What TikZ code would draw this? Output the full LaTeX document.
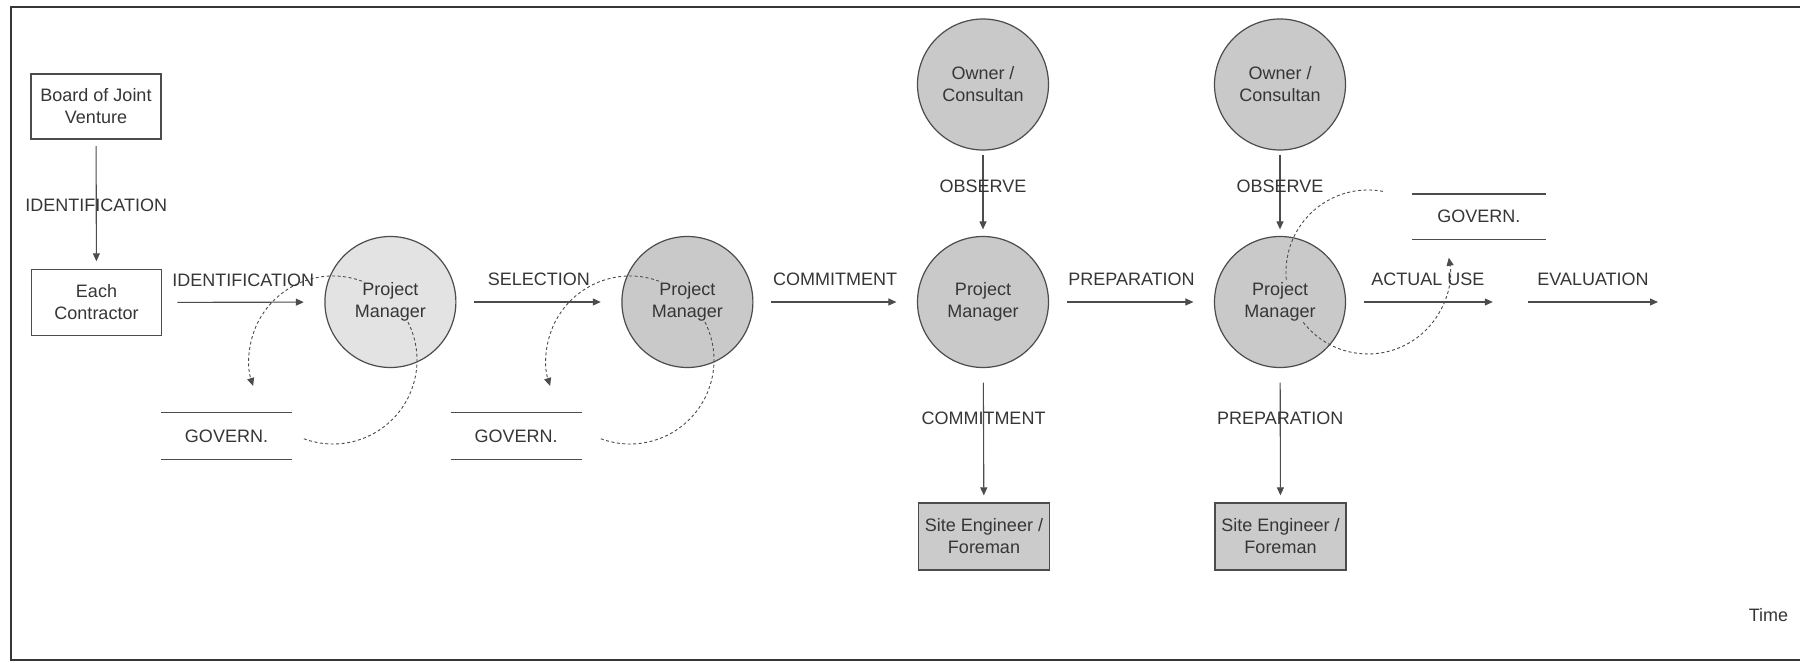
\documentclass[tikz,border=0pt]{standalone}
\usepackage{fontspec}
\setmainfont{Liberation Sans}
\usetikzlibrary{arrows.meta,calc}
\definecolor{ink}{HTML}{363636}
\definecolor{edge}{HTML}{4C4C4C}
\definecolor{pmlight}{HTML}{E3E3E3}
\definecolor{pmdark}{HTML}{C9C9C9}
\definecolor{boxgray}{HTML}{CBCBCB}

\begin{document}
\begin{tikzpicture}[x=1pt,y=1pt,
  font=\fontsize{18}{22}\selectfont, text=ink,
  every node/.style={align=center},
  tip/.style={-{Triangle[length=8pt,width=7pt]}},
  whitebox/.style={draw=edge, line width=1.2pt, fill=white,
    minimum width=130pt, minimum height=65pt, inner sep=0pt},
  sitebox/.style={whitebox, fill=boxgray, minimum width=131pt, minimum height=67pt},
  disc/.style={circle, draw=edge, line width=1.2pt, minimum size=131pt, inner sep=0pt},
  disctext/.style={inner sep=1pt},
  flow/.style={draw=edge, line width=1.1pt, tip},
  hflow/.style={flow, shorten <=17.5pt, shorten >=20.5pt},
  loopline/.style={draw=edge, line width=0.9pt, dash pattern=on 3pt off 2.5pt, tip},
  govbox/.style={minimum width=130pt, minimum height=46.5pt, inner sep=0pt},
  govline/.style={draw=edge, line width=1.2pt},
  lab/.style={inner sep=0pt, anchor=base, yshift=16.2pt},
  vlab/.style={inner sep=0pt, anchor=base, yshift=-6.5pt},
]
\useasboundingbox (0,0) rectangle (1800,662);
\fill[white] (0,0) rectangle (1800,662);

% outer frame (open to the right)
\draw[line width=2pt, draw=ink] (1800,655) -- (11,655) -- (11,2) -- (1800,2);

% boxes
\node[whitebox] (board) at (96,555.5) {Board of Joint\\Venture};
\node[whitebox, minimum height=66pt] (each) at (96.5,359.5) {Each\\Contractor};
\node[sitebox] (site1) at (984,125.5) {Site Engineer /\\Foreman};
\node[sitebox] (site2) at (1280.5,125.5) {Site Engineer /\\Foreman};

% circles
\node[disc, fill=pmlight] (pm1) at (390.4,360) {};
\node[disc, fill=pmdark] (pm2) at (687.4,360) {};
\node[disc, fill=pmdark] (pm3) at (983,360) {};
\node[disc, fill=pmdark] (pm4) at (1280,360) {};
\node[disc, fill=pmdark] (own1) at (983,577.5) {Owner /\\Consultan};
\node[disc, fill=pmdark] (own2) at (1280,577.5) {Owner /\\Consultan};

% governance stores
\node[govbox] (gov1) at (226.5,226) {GOVERN.};
\node[govbox, minimum width=131pt] (gov2) at (516.2,226) {GOVERN.};
\node[govbox, minimum width=133pt, minimum height=45pt] (gov3) at (1478.8,445.2) {GOVERN.};
\foreach \g in {gov1,gov2,gov3}{
  \draw[govline] (\g.north west) -- (\g.north east) (\g.south west) -- (\g.south east);
}

% governance feedback loops
\coordinate (c1) at (333,302);
\coordinate (c2) at (630,302);
\coordinate (c3) at (1368,390);
\draw[loopline] (c1) ++(249.7:84) arc[start angle=249.7, end angle=558, radius=84];
\draw[loopline] (c2) ++(249.7:84) arc[start angle=249.7, end angle=558, radius=84];
\draw[loopline] (c3) ++(79.5:82) arc[start angle=79.5, end angle=370, radius=82];

% circle captions
\node[disctext, fill=pmlight] (pm1t) at (pm1) {Project\\Manager};
\node[disctext, fill=pmdark] (pm2t) at (pm2) {Project\\Manager};
\node[disctext, fill=pmdark] (pm3t) at (pm3) {Project\\Manager};
\node[disctext, fill=pmdark] (pm4t) at (pm4) {Project\\Manager};

% main time line
\coordinate (a5e) at (1492.8,360);
\coordinate (a6s) at (1528,360);
\coordinate (a6e) at (1658,360);
\draw[hflow, shorten <=15.3pt] (each) -- node[lab] (l1) {IDENTIFICATION} (pm1);
\draw[hflow] (pm1) -- node[lab] (l2) {SELECTION} (pm2);
\draw[hflow] (pm2) -- node[lab] (l3) {COMMITMENT} (pm3);
\draw[hflow] (pm3) -- node[lab] (l4) {PREPARATION} (pm4);
\draw[flow, shorten <=17.5pt] (pm4) -- node[lab, pos=0.558] (l5) {ACTUAL USE} (a5e);
\draw[flow] (a6s) -- node[lab] (l6) {EVALUATION} (a6e);

% vertical flows
\draw[flow, shorten <=6.6pt, shorten >=7.6pt] (board) -- node[vlab, pos=0.504] (v1) {IDENTIFICATION} (each);
\draw[flow, shorten <=4pt, shorten >=6.5pt] (own1) -- node[vlab, pos=0.413] (v2) {OBSERVE} (pm3);
\draw[flow, shorten <=4pt, shorten >=6.5pt] (own2) -- node[vlab, pos=0.413] (v3) {OBSERVE} (pm4);
\draw[flow, shorten <=14.5pt, shorten >=7pt] (pm3) -- node[vlab, pos=0.373] (v4) {COMMITMENT} (site1);
\draw[flow, shorten <=14.5pt, shorten >=7pt] (pm4) -- node[vlab, pos=0.373] (v5) {PREPARATION} (site2);

% axis caption
\node (time) at (1768.5,47) {Time};
\end{tikzpicture}
\end{document}
